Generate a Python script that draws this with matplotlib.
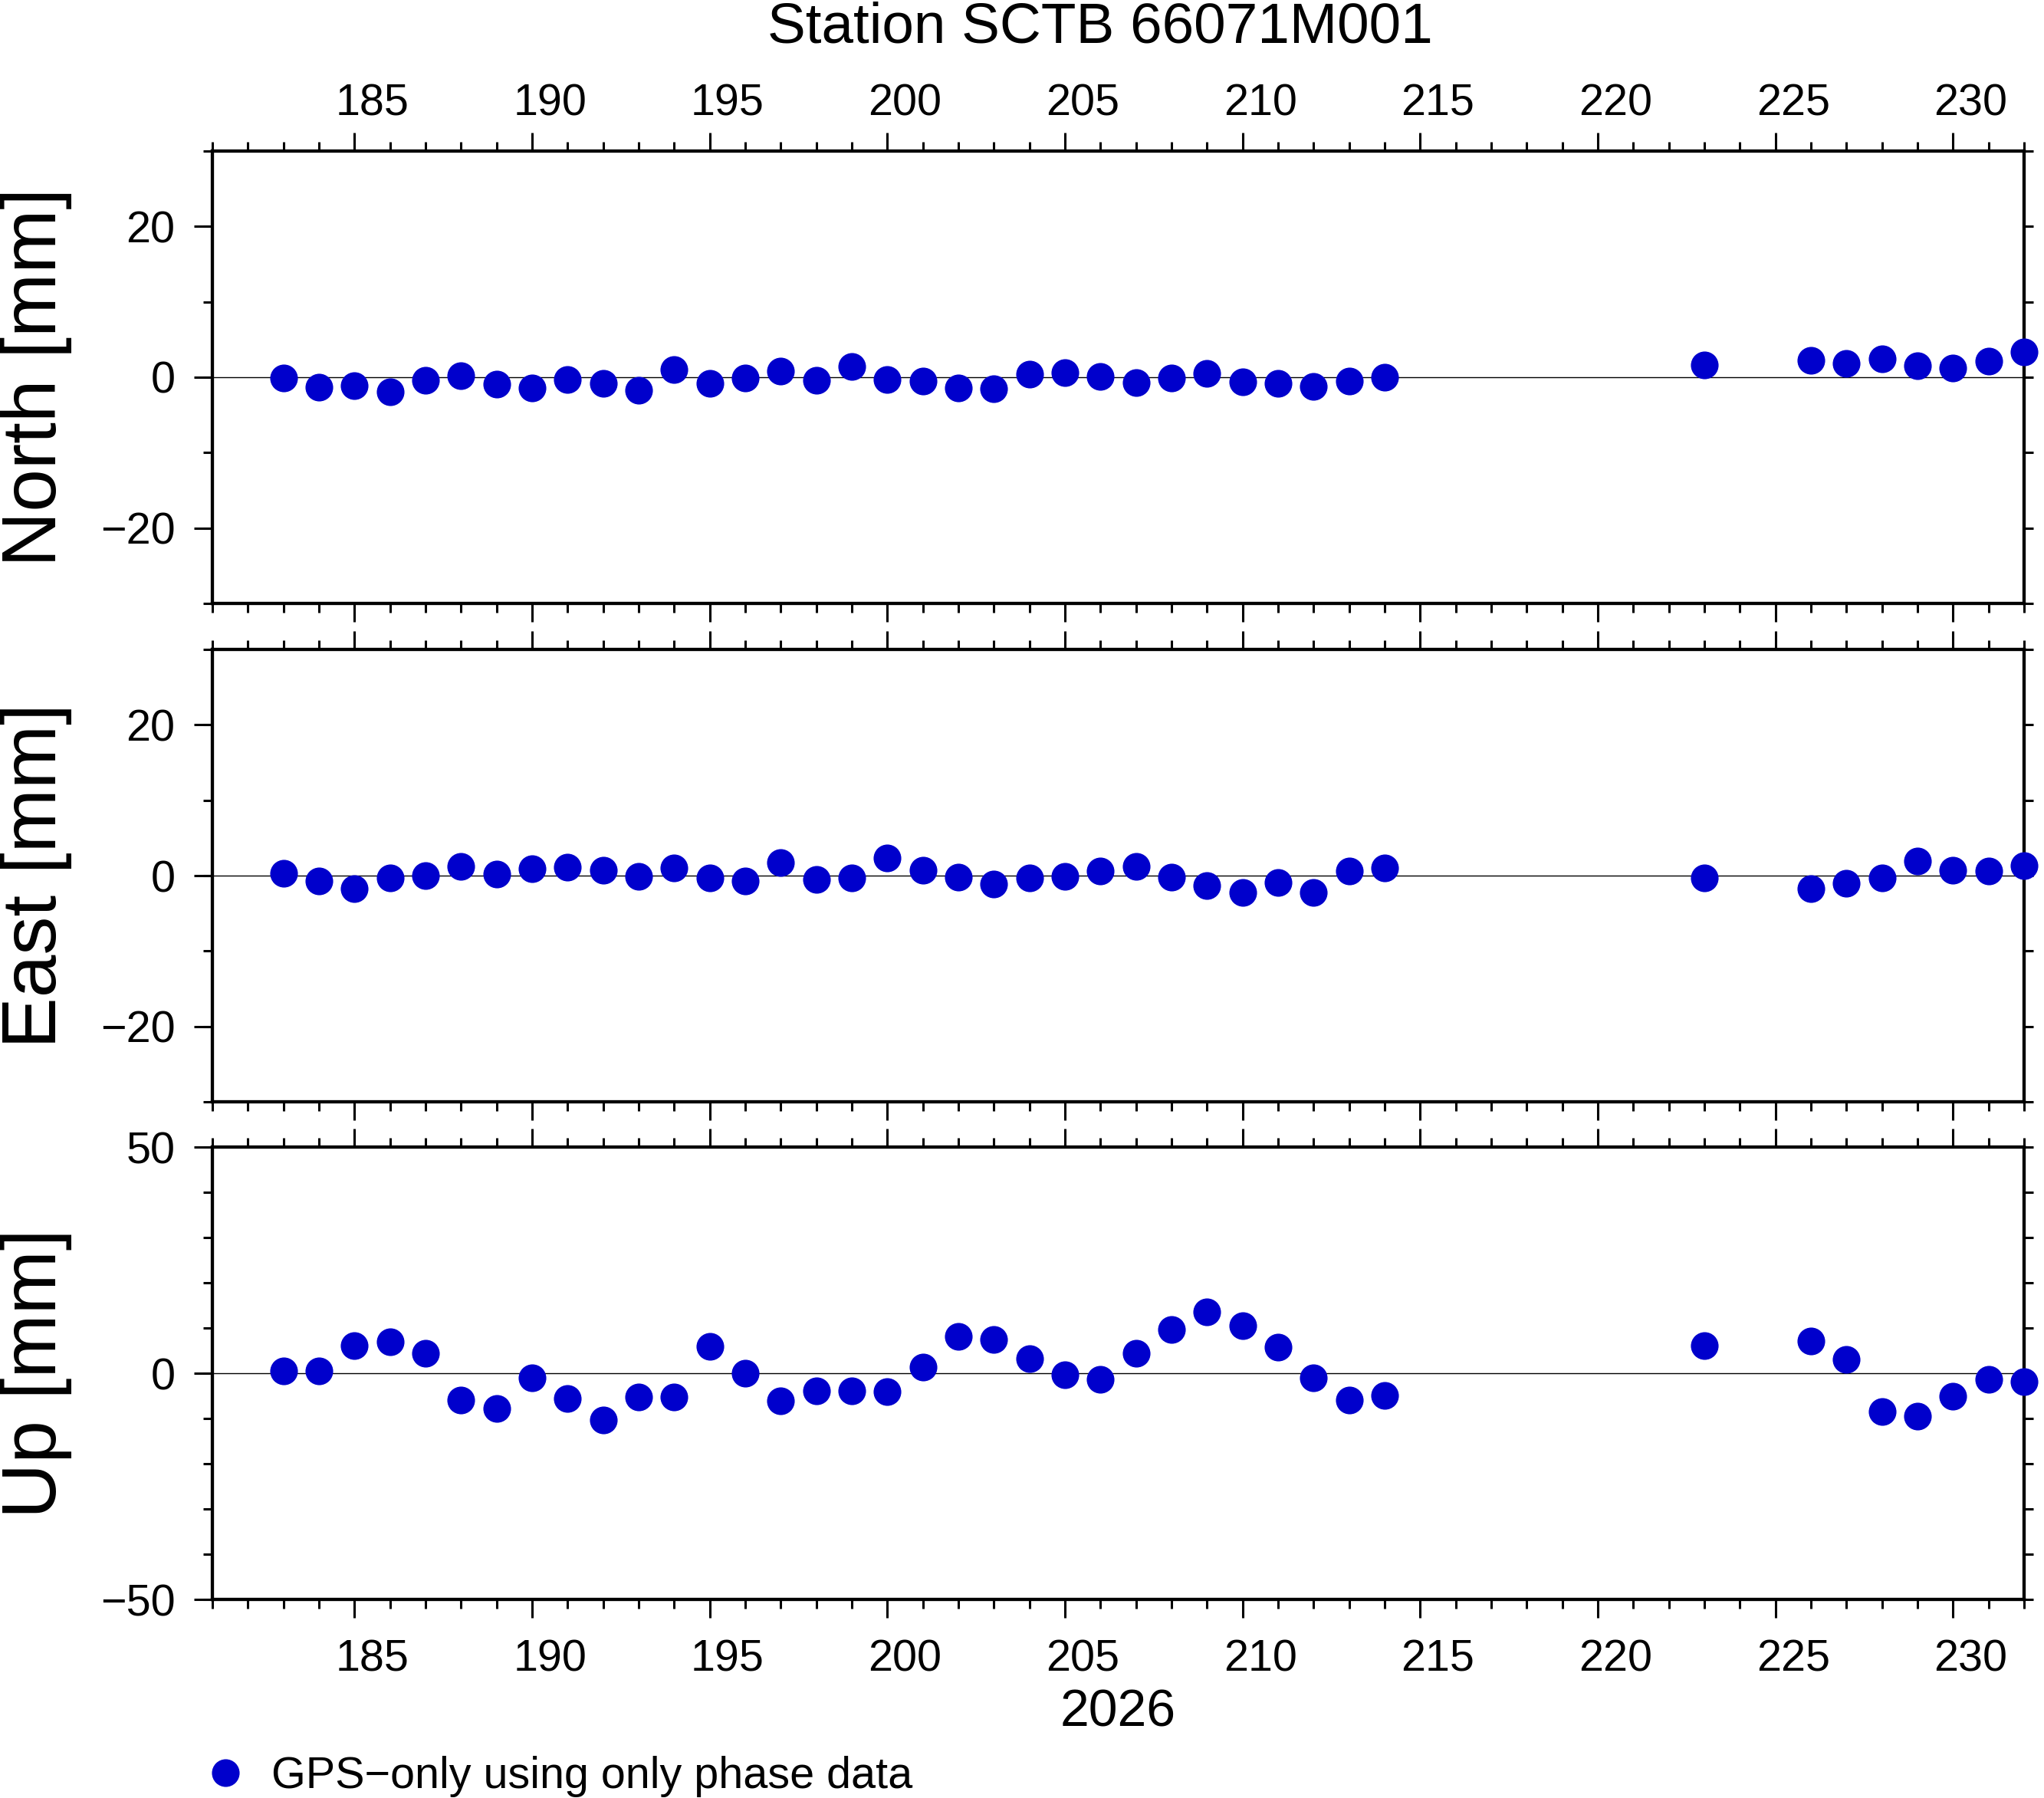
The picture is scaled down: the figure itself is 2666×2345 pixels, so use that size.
import matplotlib
matplotlib.use("Agg")
import matplotlib.pyplot as plt
from matplotlib.ticker import MultipleLocator, NullFormatter
from matplotlib.transforms import ScaledTranslation

plt.rcParams['font.family'] = ['Liberation Sans', 'DejaVu Sans']

# day of year 2026
days = [183, 184, 185, 186, 187, 188, 189, 190, 191, 192, 193, 194, 195, 196, 197, 198,
        199, 200, 201, 202, 203, 204, 205, 206, 207, 208, 209, 210, 211, 212, 213, 214,
        223, 226, 227, 228, 229, 230, 231, 232]

# displacements in mm
north = [-0.1, -1.35, -1.1, -1.9, -0.4, 0.2, -0.9, -1.4, -0.3, -0.8, -1.7, 1.0, -0.8, -0.1, 0.8, -0.4,
         1.4, -0.3, -0.5, -1.4, -1.5, 0.4, 0.6, 0.1, -0.7, -0.1, 0.5, -0.6, -0.8, -1.2, -0.5, 0.0,
         1.6, 2.2, 1.8, 2.4, 1.5, 1.2, 2.1, 3.4]
east = [0.3, -0.7, -1.7, -0.3, 0.0, 1.2, 0.2, 0.9, 1.1, 0.7, -0.1, 1.0, -0.3, -0.7, 1.7, -0.5,
        -0.3, 2.3, 0.7, -0.2, -1.1, -0.3, -0.1, 0.6, 1.2, -0.2, -1.3, -2.2, -0.9, -2.2, 0.6, 1.0,
        -0.3, -1.7, -1.0, -0.3, 1.9, 0.7, 0.6, 1.3]
up = [0.6, 0.6, 6.2, 6.9, 4.5, -5.9, -7.8, -1.0, -5.6, -10.3, -5.2, -5.2, 5.9, 0.1, -6.1, -3.9,
      -3.9, -4.0, 1.4, 8.2, 7.4, 3.3, -0.3, -1.3, 4.5, 9.6, 13.5, 10.6, 5.7, -1.0, -5.9, -4.9,
      6.1, 7.2, 3.1, -8.5, -9.5, -5.1, -1.3, -1.8]

names = ["North [mm]", "East [mm]", "Up [mm]"]
series = [north, east, up]
ylims = [(-30, 30), (-30, 30), (-50, 50)]
ylabels_ticks = [[-20, 0, 20], [-20, 0, 20], [-50, 0, 50]]

fig = plt.figure(figsize=(13.33, 11.725), dpi=200)
bottoms = [0.6644, 0.3872, 0.1104]
dot_color = "#0000CC"

axes = []
for i in range(3):
    ax = fig.add_axes([0.1039, bottoms[i], 0.8863, 0.2516])
    ax.axhline(0, color="black", lw=0.5, zorder=1)
    line, = ax.plot(days, series[i], "o", color=dot_color, markersize=13,
                    markeredgewidth=0, clip_on=False, zorder=3,
                    label="GPS\u2212only using only phase data")
    ax.set_xlim(181, 232)
    ax.set_ylim(*ylims[i])

    ax.xaxis.set_major_locator(MultipleLocator(5))
    ax.xaxis.set_minor_locator(MultipleLocator(1))
    ax.set_yticks(ylabels_ticks[i])
    ax.yaxis.set_minor_locator(MultipleLocator(10))
    ax.yaxis.remove_overlapping_locs = False

    for sp in ax.spines.values():
        sp.set_linewidth(1.55)

    ax.tick_params(axis="x", which="both", direction="out", top=True, bottom=True,
                   width=1.1, labelsize=20.7)
    ax.tick_params(axis="x", which="major", length=8.5)
    ax.tick_params(axis="x", which="minor", length=4.2)
    ax.tick_params(axis="y", which="major", direction="out", left=True, right=False,
                   length=8.5, width=1.1, labelsize=20.7, pad=9)
    ax.tick_params(axis="y", which="minor", direction="out", left=True, right=True,
                   length=4.2, width=1.1)

    if i == 0:
        ax.tick_params(axis="x", which="major", labeltop=True, labelbottom=False, pad=3.8)
    elif i == 2:
        ax.tick_params(axis="x", which="major", labeltop=False, labelbottom=True, pad=10)
    else:
        ax.xaxis.set_major_formatter(NullFormatter())

    cy = bottoms[i] + 0.2516 / 2
    fig.text(0.0175, cy, names[i], rotation=90, ha="center", va="center", fontsize=36)
    axes.append(ax)
    if i == 0:
        handle = line

# day labels sit in the middle of the day interval
fig.canvas.draw()
shift = ScaledTranslation(23.2 / 200, 0, fig.dpi_scale_trans)
for ax in (axes[0], axes[2]):
    for lab in ax.xaxis.get_majorticklabels():
        lab.set_transform(lab.get_transform() + shift)

fig.text(0.5383, 1 - 56 / 2345, "Station SCTB 66071M001", ha="center", va="baseline", fontsize=26.9)
fig.text(0.5469, 1 - 2252 / 2345, "2026", ha="center", va="baseline", fontsize=24.5)

fig.legend(handles=[handle], loc="center left", bbox_to_anchor=(0.0994, 1 - 2317 / 2345),
           frameon=False, fontsize=20.7, handlelength=1.0, handletextpad=0.55,
           borderpad=0, borderaxespad=0)

fig.savefig("out.png", dpi=200)
